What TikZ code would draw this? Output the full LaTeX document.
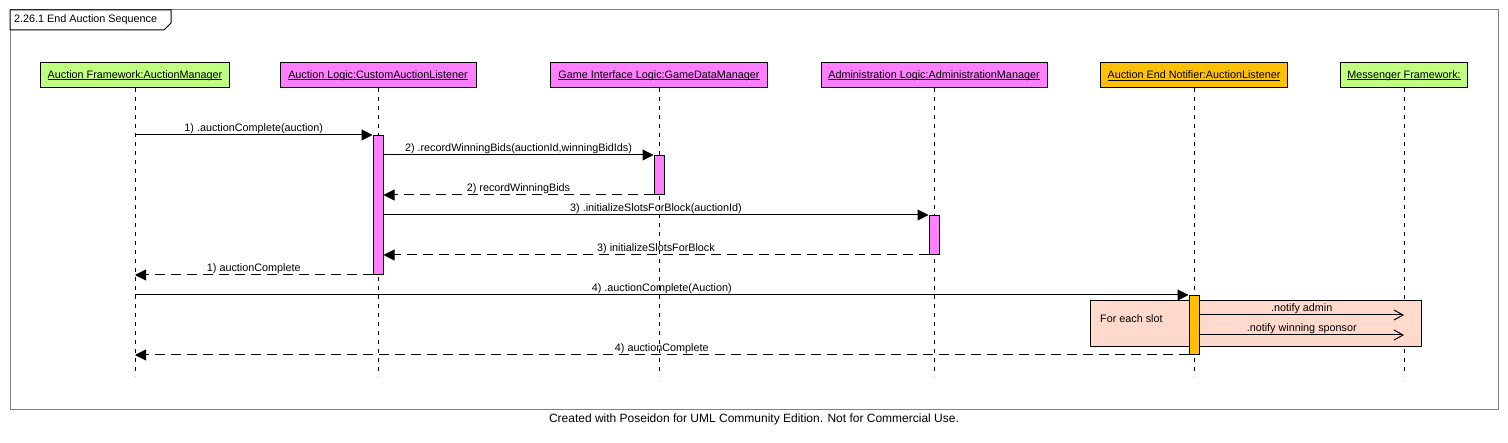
\documentclass[tikz,border=0pt]{standalone}
\usepackage{fontspec}
\setmainfont{Liberation Sans}
\usetikzlibrary{arrows.meta}
\definecolor{headgreen}{RGB}{192,255,128}
\definecolor{headpink}{RGB}{255,128,255}
\definecolor{headorange}{RGB}{255,192,0}
\definecolor{loopfill}{RGB}{255,218,204}
\definecolor{framegray}{RGB}{128,128,128}
\newcommand{\umlfont}{\fontsize{10.8}{12}\selectfont}
\newcommand{\headul}[1]{\setbox0\hbox{#1}\rlap{\rule[-2pt]{\wd0}{0.9pt}}\box0}
\tikzset{
  head/.style={draw,line width=1pt,minimum height=25pt,inner sep=0pt,font=\umlfont},
  life/.style={line width=1pt,dash pattern=on 4pt off 5pt},
  act/.style={draw,line width=1pt,minimum width=10pt,inner sep=0pt,anchor=north},
  call/.style={line width=1pt,-{Triangle[length=11pt,width=11pt]}},
  ret/.style={call,dash pattern=on 10pt off 6pt},
  notify/.style={line width=1pt,-{Straight Barb[length=9pt,width=10pt]}},
  lbl/.style={midway,above,inner sep=1pt,font=\umlfont}
}
\begin{document}
\begin{tikzpicture}[x=1pt,y=-1pt]
  \useasboundingbox (0,0) rectangle (1508,443);
  % frame and title tab
  \draw[framegray,line width=1pt] (10,10) rectangle (1498,410);
  \draw[line width=1pt,fill=white] (10,10) -- (171,10) -- (171,23) -- (164,30) -- (10,30) -- cycle;
  \node[anchor=west,inner sep=0pt,font=\umlfont] (title) at (14,20) {2.26.1 End Auction Sequence};
  % lifeline heads
  \node[head,fill=headgreen,minimum width=189pt] (am) at (135,75.5) {\headul{Auction Framework:AuctionManager}};
  \node[head,fill=headpink,minimum width=196pt] (cal) at (378,75.5) {\headul{Auction Logic:CustomAuctionListener}};
  \node[head,fill=headpink,minimum width=217pt] (gdm) at (659,75.5) {\headul{Game Interface Logic:GameDataManager}};
  \node[head,fill=headpink,minimum width=226pt] (adm) at (934,75.5) {\headul{Administration Logic:AdministrationManager}};
  \node[head,fill=headorange,minimum width=187pt] (aen) at (1194,75.5) {\headul{Auction End Notifier:AuctionListener}};
  \node[head,fill=headgreen,minimum width=127pt] (mf) at (1404,75.5) {\headul{Messenger Framework:}};
  \foreach \h in {am,cal,gdm,adm,aen,mf}
    \draw[life] (\h.south) -- ++(0,288);
  % loop fragment
  \node[draw,line width=1pt,fill=loopfill,minimum width=331pt,minimum height=46pt,inner sep=0pt] (loop) at (1255.5,324) {};
  \node[anchor=west,inner sep=0pt,font=\umlfont] (slot) at (1100,319) {For each slot};
  % activations
  \node[act,fill=headpink,minimum height=139pt] (a2) at (cal.south |- 0,135) {};
  \node[act,fill=headpink,minimum height=39pt] (a3) at (gdm.south |- 0,155) {};
  \node[act,fill=headpink,minimum height=39pt] (a4) at (adm.south |- 0,215) {};
  \node[act,fill=headorange,minimum height=59pt] (a5) at (aen.south |- 0,295) {};
  % messages
  \draw[call] (am |- a2.north) -- (a2.north west) node[lbl] {1) .auctionComplete(auction)};
  \draw[call] (a2.east |- a3.north) -- (a3.north west) node[lbl] {2) .recordWinningBids(auctionId,winningBidIds)};
  \draw[ret] (a3.south west) -- (a2.east |- a3.south) node[lbl] {2) recordWinningBids};
  \draw[call] (a2.east |- a4.north) -- (a4.north west) node[lbl] {3) .initializeSlotsForBlock(auctionId)};
  \draw[ret] (a4.south west) -- (a2.east |- a4.south) node[lbl] {3) initializeSlotsForBlock};
  \draw[ret] (a2.south west) -- (am |- a2.south) node[lbl] {1) auctionComplete};
  \draw[call] (am |- a5.north) -- (a5.north west) node[lbl] {4) .auctionComplete(Auction)};
  \draw[notify] (a5.east |- 0,315) -- (mf |- 0,315) node[lbl] {.notify admin};
  \draw[notify] (a5.east |- 0,335) -- (mf |- 0,335) node[lbl] {.notify winning sponsor};
  \draw[ret] (a5.south west) -- (am |- a5.south) node[lbl] {4) auctionComplete};
  % footer
  \node[font=\fontsize{12}{14}\selectfont,inner sep=0pt] (foot) at (754,419) {Created with Poseidon for UML Community Edition. Not for Commercial Use.};
\end{tikzpicture}
\end{document}
